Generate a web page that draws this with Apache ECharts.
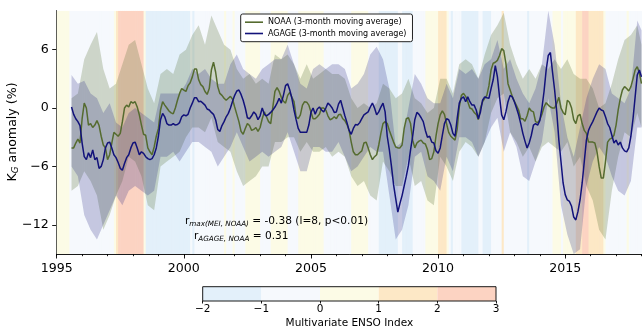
<!DOCTYPE html>
<html><head><meta charset="utf-8">
<script src="https://cdn.jsdelivr.net/npm/echarts@6/dist/echarts.min.js"></script>
<style>html,body{margin:0;padding:0;background:#fff}#c{width:642px;height:330px}</style>
</head><body><div id="c"></div>
<script>
const FONT = 'DejaVu Sans';
// monthly series start (Aug 1995), step = 1 month
const startYear = 1995 + 7/12;
const xTicks = [1995, 2000, 2005, 2010, 2015];
const yTicks = [-12, -6, 0, 6];
const cbTicks = [-2, -1, 0, 1, 2, 3];
const meiColors = ['#e3f0fa', '#f6f9fd', '#fcfbe6', '#fde8c6', '#fcd3c2'];
const seriesNames = ['NOAA (3-month moving average)', 'AGAGE (3-month moving average)'];

const noaa = [
-4.1,-4.1,-3.6,-3.2,-3.6,-1.1,0.5,0.0,-1.75,-1.6,
-2.0,-1.75,-1.3,-1.8,-2.9,-3.8,-4.1,-5.3,-4.8,-3.6,
-2.5,-2.7,-2.9,-2.6,-1.4,0.0,0.3,0.1,0.65,0.5,
0.65,0.1,-0.7,-1.75,-2.7,-2.8,-4.1,-4.5,-4.8,-4.0,
-2.9,-2.1,-0.2,0.65,0.3,0.0,-0.3,-0.5,-0.6,0.0,
0.8,1.5,2.0,1.85,1.7,2.3,2.6,3.2,4.0,4.0,
2.9,2.4,2.2,1.7,1.4,2.0,3.9,4.7,3.7,2.2,
1.5,1.3,1.0,0.8,1.0,1.2,0.9,0.1,-0.65,-1.4,
-2.4,-2.7,-2.1,-1.6,-1.8,-2.3,-2.2,-2.0,-2.4,-2.0,
-1.1,-0.4,-0.9,-1.4,-1.6,0.1,1.7,2.1,1.7,1.1,
0.7,0.5,1.3,1.6,1.1,0.65,-0.9,-1.1,-0.7,0.3,
0.65,0.6,0.3,-0.4,-1.1,-1.1,-0.9,-0.65,0.0,0.0,
-0.2,-0.8,-1.2,-1.1,-0.9,-1.1,-0.7,-0.65,-1.1,-1.3,
-1.7,-2.3,-3.5,-4.5,-4.8,-4.8,-4.6,-4.4,-3.6,-3.5,
-4.1,-4.8,-5.3,-5.0,-4.8,-3.8,-2.6,-1.6,-1.4,-1.6,
-2.3,-2.9,-3.5,-4.0,-4.1,-4.1,-3.8,-2.1,-1.1,-1.0,
-1.6,-3.3,-4.1,-3.6,-3.4,-3.3,-3.6,-3.7,-4.3,-5.3,
-5.2,-4.5,-2.9,-1.6,-0.7,-0.3,-0.65,-1.6,-2.5,-2.9,
-3.1,-3.3,-2.2,0.1,1.3,1.5,1.2,0.65,0.0,-0.1,
-0.45,-0.65,-1.2,0.0,0.65,1.0,1.3,2.3,3.9,4.6,
4.7,4.9,5.4,6.1,5.9,4.6,2.5,1.85,1.2,0.7,
0.25,-0.2,-1.1,-1.1,-1.35,-0.8,0.0,-0.3,-0.4,-1.4,
-1.5,-1.2,-0.65,0.1,0.55,0.3,0.1,0.0,0.0,0.5,
1.1,0.0,-0.45,-0.7,0.8,0.6,0.0,-1.2,-1.6,-0.8,
-0.65,-1.6,-2.3,-2.6,-3.5,-3.5,-3.5,-3.6,-4.5,-6.0,
-7.2,-7.2,-5.5,-3.5,-3.2,-3.1,-2.8,-1.75,-0.2,1.0,
1.85,2.2,2.0,1.75,2.2,3.0,3.9,4.25,3.6,2.5
];

const agage = [
0.1,-0.65,-1.1,-1.4,-1.8,-3.6,-5.0,-5.3,-4.6,-5.1,
-4.3,-5.3,-5.1,-6.2,-6.0,-5.3,-4.1,-3.6,-3.5,-4.1,
-4.8,-5.1,-5.6,-6.2,-6.4,-5.7,-5.1,-4.8,-4.1,-3.6,
-3.5,-4.1,-4.8,-4.5,-4.65,-5.0,-5.2,-5.3,-5.2,-4.8,
-4.1,-2.9,-1.2,-0.55,-0.9,-1.6,-1.75,-1.75,-1.6,-1.75,
-1.7,-1.5,-0.9,-0.7,-0.8,-0.65,0.0,0.5,1.05,1.05,
0.65,0.7,0.5,0.3,-0.1,-0.2,-0.45,-0.65,-1.2,-2.2,
-2.4,-1.8,-1.4,-0.9,-0.55,0.0,0.7,1.3,1.75,1.85,
1.4,0.8,0.0,-1.0,-1.1,-0.8,-0.4,-0.65,-1.2,-0.8,
0.0,-0.65,-0.8,-0.65,-0.45,-0.2,0.1,0.5,1.0,0.5,
1.3,2.3,2.5,1.85,1.0,-0.2,-1.2,-2.1,-2.5,-2.5,
-2.5,-2.5,-1.75,-0.45,0.0,-0.65,-0.1,0.1,-0.2,-0.4,
0.0,0.5,0.3,0.0,-0.45,-0.4,0.4,0.8,0.0,-0.8,
-1.5,-2.3,-2.7,-2.1,-1.7,-1.75,-1.5,-1.1,-0.7,-0.55,
-0.4,0.1,0.5,0.0,-0.7,-0.4,0.1,0.5,-0.4,-2.9,
-4.3,-6.0,-7.9,-9.3,-10.7,-9.8,-9.0,-8.0,-7.0,-5.9,
-4.3,-2.9,-1.2,-0.45,-0.65,-1.0,-1.4,-2.3,-3.0,-2.9,
-3.5,-3.6,-4.4,-4.65,-4.1,-2.8,-1.6,-1.1,-1.2,-1.75,
-2.6,-2.9,-1.1,0.5,1.0,1.15,0.65,1.15,0.65,0.3,
0.3,-0.2,-1.1,-0.4,0.8,1.15,1.05,1.0,2.0,2.9,
4.35,3.2,1.15,-0.7,-1.2,-0.4,0.65,1.3,1.15,0.65,
0.0,-0.7,-1.6,-2.6,-3.4,-4.1,-3.6,-2.8,-1.75,-1.6,
-1.75,-1.3,0.0,1.7,3.9,5.4,5.7,3.7,1.85,-0.4,
-3.3,-5.5,-7.7,-8.9,-9.45,-9.6,-10.1,-11.2,-11.5,-10.65,
-9.45,-7.7,-5.5,-3.3,-2.3,-1.8,-1.4,-0.9,-0.4,0.0,
-0.2,-0.3,-0.9,-1.6,-2.0,-2.8,-3.6,-3.3,-3.8,-3.5,
-4.1,-4.4,-4.5,-4.1,-2.9,-1.1,1.15,3.4,3.9,3.2
];

// uncertainty bands, sampled every 3 months (month index 0,3,...,267) plus month 269
const noaaUpper = [1.0,1.5,5.0,6.5,7.8,4.0,2.0,2.5,4.5,6.5,7.0,4.5,2.0,0.5,3.5,4.0,3.5,5.5,6.0,7.5,
8.5,6.5,9.5,8.0,6.5,6.0,4.0,3.0,3.5,2.5,3.0,2.5,5.5,5.0,5.5,4.5,3.0,4.5,3.0,3.5,
4.0,3.5,3.5,3.0,1.0,0.0,0.5,0.0,0.5,2.5,2.0,1.0,1.5,3.0,1.0,0.5,-0.5,0.0,3.0,3.0,
1.5,4.5,5.0,4.5,3.0,5.5,7.5,8.5,9.8,6.5,4.5,3.0,4.0,3.0,4.5,4.0,5.0,4.0,5.0,3.5,
3.0,3.0,2.0,0.0,0.5,2.5,5.0,7.0,7.5,8.5,6.5];
const noaaLower = [-8.5,-8.0,-6.5,-7.5,-9.0,-12.5,-11.0,-9.0,-7.5,-5.0,-5.5,-7.0,-10.0,-10.5,-6.0,-5.5,-5.0,-4.5,-3.0,-2.0,
-2.0,-2.5,-1.0,-3.5,-4.0,-4.5,-6.5,-8.0,-7.5,-7.0,-6.0,-6.0,-3.5,-3.5,-3.0,-3.0,-4.5,-3.5,-4.5,-4.5,
-4.0,-5.0,-4.5,-5.0,-7.0,-8.0,-7.5,-9.0,-9.5,-5.5,-6.5,-8.0,-8.0,-5.0,-8.0,-7.5,-9.5,-10.0,-5.0,-6.0,
-7.5,-4.5,-3.5,-4.0,-5.0,-3.5,-0.5,1.0,1.5,-2.5,-3.5,-5.0,-4.0,-5.5,-4.0,-3.5,-4.0,-4.5,-3.5,-6.0,
-5.0,-8.0,-9.5,-12.5,-13.5,-8.5,-5.0,-2.5,-3.0,-0.5,-2.0];
const agageUpper = [3.4,2.5,2.8,1.5,1.0,-0.5,0.5,-1.5,-2.0,-0.5,0.0,-0.5,-1.0,-1.5,1.5,1.5,1.5,1.5,2.5,4.0,
3.5,4.0,3.0,2.5,2.5,4.5,5.5,4.0,3.5,3.0,4.0,4.5,5.0,5.0,6.5,4.5,2.5,2.0,4.0,4.5,
4.0,4.5,4.5,4.0,2.0,2.5,3.5,5.5,6.3,5.0,2.0,-4.0,-3.5,0.0,3.5,2.5,1.0,0.5,0.5,2.5,
1.0,4.0,3.5,4.0,3.0,4.5,5.0,7.0,4.0,5.0,3.0,1.5,0.5,2.0,4.5,10.0,6.5,0.5,-3.0,-5.0,
-2.0,1.0,3.0,4.5,4.0,1.5,1.0,0.5,2.0,9.0,8.0];
const agageLower = [-6.0,-7.0,-11.0,-12.5,-13.5,-12.0,-10.5,-9.0,-10.0,-8.5,-8.0,-8.5,-9.0,-8.5,-5.0,-5.0,-4.5,-5.5,-4.5,-3.5,
-3.5,-4.0,-4.5,-6.0,-5.0,-4.0,-2.5,-4.0,-5.5,-5.0,-4.5,-5.0,-4.5,-4.0,-2.5,-4.5,-6.5,-6.5,-4.0,-4.0,
-4.5,-4.5,-3.5,-5.0,-6.5,-6.0,-5.0,-4.0,-4.5,-4.5,-9.0,-13.5,-12.5,-10.0,-5.0,-4.5,-7.0,-7.5,-8.5,-5.0,
-6.5,-3.0,-3.0,-3.5,-5.0,-3.5,-2.0,-1.0,-4.5,-2.5,-4.0,-7.0,-7.5,-5.5,-3.5,1.0,-2.5,-10.0,-13.0,-15.0,
-14.5,-8.0,-5.5,-4.0,-5.0,-7.0,-8.5,-9.0,-7.5,-2.0,-2.0];

// Multivariate ENSO Index, monthly from Jan 1995
const meiStart = 1995;
const mei = [
0.6,0.5,0.4,0.3,0.2,0.1,-0.2,-0.3,-0.5,-0.6,-0.7,-0.6,
-0.6,-0.7,-0.5,-0.4,-0.3,-0.3,-0.2,-0.4,-0.3,-0.3,-0.2,-0.2,
-0.4,-0.3,-0.2,0.5,1.4,2.3,2.6,2.8,2.9,2.8,2.7,2.6,
2.6,2.5,2.3,2.2,2.1,0.6,-1.1,-1.2,-1.3,-1.4,-1.2,-1.3,
-1.4,-1.5,-1.3,-1.2,-1.1,-1.2,-1.2,-1.3,-1.4,-1.3,-1.5,-1.6,
-1.5,-1.4,-1.2,-0.8,-1.1,-0.7,-0.5,-0.4,-0.3,-0.6,-0.8,-0.7,
-0.6,-0.5,-0.5,-0.3,-0.1,-0.2,-0.1,0.1,-0.1,-0.2,-0.1,0.1,
-0.1,-0.2,-0.1,-0.2,-0.1,0.4,0.6,0.8,0.9,0.9,0.8,0.7,
-0.1,-0.2,-0.3,-0.4,-0.1,0.2,0.3,0.3,0.2,0.3,0.4,0.3,
0.2,-0.1,-0.2,-0.2,-0.1,-0.1,0.4,0.6,0.7,0.7,0.6,0.7,
0.5,0.6,0.7,0.5,0.4,0.2,-0.1,-0.2,-0.4,-0.6,-0.7,-0.6,
-0.5,-0.4,-0.6,-0.3,-0.2,-0.1,-0.1,0.3,0.5,0.7,0.9,0.9,
0.8,0.5,0.2,-0.2,-0.4,-0.5,-0.6,-0.8,-1.1,-1.2,-1.3,-1.3,
-1.4,-1.5,-1.4,-1.2,-1.1,-0.8,-0.9,-1.1,-1.2,-1.2,-1.1,-1.1,
-1.0,-0.8,-0.6,-0.4,-0.2,-0.1,0.3,0.5,0.6,0.8,0.9,0.9,
1.1,1.2,1.2,1.1,0.6,-0.5,-1.1,-0.9,-0.8,-0.8,-0.9,-1.2,
-1.4,-1.5,-1.6,-1.4,-1.3,-1.2,-1.1,-0.8,-0.9,-1.1,-1.2,-1.1,
-1.1,-1.0,-0.8,-0.6,-0.3,-0.1,1.1,-0.1,-0.2,-0.3,-0.2,-0.2,
-0.3,-0.4,-0.3,-0.2,-0.3,-0.5,-1.1,-0.4,-0.3,-0.2,-0.2,-0.1,
-0.2,-0.3,-0.1,-0.2,-0.3,-0.1,0.3,0.4,0.3,0.2,-0.1,0.3,
0.4,0.5,0.7,0.8,0.9,1.3,1.6,1.9,2.2,2.3,2.2,1.9,
1.8,1.7,1.6,1.4,1.3,1.1,0.4,-0.2,-0.3,-0.4,-0.3,-0.4,
-0.4,-0.3,-0.2,-0.1,-0.1,0.3,-0.1,-0.3,-0.4,-0.5,-0.6,-0.7
];

const monthT = i => startYear + i / 12;
const bandMonths = [];
for (let m = 0; m <= 267; m += 3) bandMonths.push(m);
bandMonths.push(269);
const bandT = bandMonths.map(monthT);

function meiColor(v) {
  for (let k = 0; k < meiColors.length; k++) if (v < cbTicks[k + 1]) return meiColors[k];
  return meiColors[meiColors.length - 1];
}
const minus = v => (v < 0 ? '\u2212' + Math.abs(v) : String(v));

function bandSeries(upper, lower, fill, z) {
  return {
    type: 'custom', xAxisIndex: 0, yAxisIndex: 0, silent: true, z: z, clip: true,
    data: [[1995, 0]],
    renderItem: function (params, api) {
      const pts = [];
      for (let k = 0; k < bandT.length; k++) pts.push(api.coord([bandT[k], upper[k]]));
      for (let k = bandT.length - 1; k >= 0; k--) pts.push(api.coord([bandT[k], lower[k]]));
      return { type: 'polygon', shape: { points: pts }, style: { fill: fill } };
    }
  };
}

const chart = echarts.init(document.getElementById('c'));
const axisBlack = { color: '#000', width: 0.9 };
const option = {
  animation: false,
  grid: [
    { left: 56.7, right: 0.5, top: 10.7, bottom: 76 },
    { left: 202.7, top: 286.7, width: 293.3, height: 14.3 }
  ],
  xAxis: [
    { gridIndex: 0, type: 'value', min: 1995, max: 2018, interval: 1,
      axisLine: { show: true, onZero: false, lineStyle: axisBlack },
      axisTick: { show: true, length: 2.2, lineStyle: axisBlack },
      axisLabel: { customValues: xTicks, margin: 8, fontSize: 12.6, fontFamily: FONT, color: '#000',
                   formatter: v => String(Math.round(v)) },
      splitLine: { show: false } },
    { gridIndex: 0, type: 'value', min: 1995, max: 2018, position: 'bottom',
      axisLine: { show: false, onZero: false }, axisLabel: { show: false },
      axisTick: { show: true, customValues: xTicks, length: 4.5, lineStyle: axisBlack },
      splitLine: { show: false } },
    { gridIndex: 1, type: 'value', min: -2, max: 3, interval: 1,
      axisLine: { show: false, onZero: false },
      axisTick: { show: true, length: 2.5, lineStyle: axisBlack },
      axisLabel: { margin: 3, fontSize: 10.5, fontFamily: FONT, color: '#000', formatter: minus },
      splitLine: { show: false },
      name: 'Multivariate ENSO Index', nameLocation: 'middle', nameGap: 17,
      nameTextStyle: { fontSize: 10.5, fontFamily: FONT, color: '#000' } }
  ],
  yAxis: [
    { gridIndex: 0, type: 'value', min: -15, max: 10,
      axisLine: { show: true, onZero: false, lineStyle: axisBlack },
      axisTick: { show: true, customValues: yTicks, length: 4.5, lineStyle: axisBlack },
      axisLabel: { customValues: yTicks, margin: 8, fontSize: 12.6, fontFamily: FONT, color: '#000', formatter: minus },
      splitLine: { show: false } },
    { gridIndex: 1, type: 'value', min: 0, max: 1, show: false }
  ],
  legend: {
    data: seriesNames, orient: 'vertical', left: 240.7, top: 14,
    icon: 'rect', itemWidth: 18, itemHeight: 1.6, itemGap: 1.3,
    padding: [3.2, 6, 3.2, 4.3],
    borderColor: '#222', borderWidth: 1, borderRadius: 2, backgroundColor: '#fff',
    textStyle: { fontSize: 8, fontFamily: FONT, color: '#000', lineHeight: 10 }
  },
  graphic: [
    { type: 'text', x: 13, y: 132, rotation: Math.PI / 2, silent: true,
      style: { text: '{k|K}{g|G}{k| anomaly (%)}', align: 'center', verticalAlign: 'middle',
        rich: { k: { fontSize: 12.6, fontFamily: FONT, fill: '#000', lineHeight: 15 },
                g: { fontSize: 8.8, fontFamily: FONT, fontStyle: 'italic', fill: '#000', lineHeight: 6, verticalAlign: 'bottom' } } } },
    { type: 'text', x: 185, y: 221, silent: true, z: 100,
      style: { text: '{r|r}{s|max(MEI, NOAA)}{r| = -0.38 (l=8, p<0.01)}', align: 'left', verticalAlign: 'middle',
        rich: { r: { fontSize: 10.6, fontFamily: FONT, fill: '#000', lineHeight: 13 },
                s: { fontSize: 7.2, fontFamily: FONT, fontStyle: 'italic', fill: '#000', lineHeight: 5, verticalAlign: 'bottom' } } } },
    { type: 'text', x: 194, y: 236, silent: true, z: 100,
      style: { text: '{r|r}{s|AGAGE, NOAA}{r| = 0.31}', align: 'left', verticalAlign: 'middle',
        rich: { r: { fontSize: 10.6, fontFamily: FONT, fill: '#000', lineHeight: 13 },
                s: { fontSize: 7.2, fontFamily: FONT, fontStyle: 'italic', fill: '#000', lineHeight: 5, verticalAlign: 'bottom' } } } }
  ],
  series: [
    { type: 'custom', xAxisIndex: 0, yAxisIndex: 0, silent: true, z: 1, clip: true,
      data: mei.map((v, k) => [meiStart + k / 12, v]),
      renderItem: function (params, api) {
        const t = api.value(0), v = api.value(1);
        const a = api.coord([t, 10]), b = api.coord([t + 1 / 12, -15]);
        return { type: 'rect', shape: { x: a[0], y: a[1], width: b[0] - a[0] + 0.6, height: b[1] - a[1] },
                 style: { fill: meiColor(v) } };
      } },
    bandSeries(noaaUpper, noaaLower, 'rgba(85,107,47,0.25)', 2),
    bandSeries(agageUpper, agageLower, 'rgba(25,25,125,0.22)', 2),
    { name: seriesNames[0], type: 'line', xAxisIndex: 0, yAxisIndex: 0, z: 3, symbol: 'none',
      data: noaa.map((v, i) => [monthT(i), v]),
      lineStyle: { color: '#556b2f', width: 1.5 }, itemStyle: { color: '#556b2f' } },
    { name: seriesNames[1], type: 'line', xAxisIndex: 0, yAxisIndex: 0, z: 3, symbol: 'none',
      data: agage.map((v, i) => [monthT(i), v]),
      lineStyle: { color: '#12127a', width: 1.5 }, itemStyle: { color: '#12127a' } },
    { type: 'custom', xAxisIndex: 2, yAxisIndex: 1, silent: true, z: 2,
      data: meiColors.map((c, k) => [cbTicks[k], cbTicks[k + 1], k]),
      encode: { x: [0, 1] },
      renderItem: function (params, api) {
        const a = api.coord([api.value(0), 1]), b = api.coord([api.value(1), 0]);
        return { type: 'rect', shape: { x: a[0], y: a[1], width: b[0] - a[0], height: b[1] - a[1] },
                 style: { fill: meiColors[api.value(2)] } };
      } },
    { type: 'custom', xAxisIndex: 2, yAxisIndex: 1, silent: true, z: 4,
      data: [[cbTicks[0], 0]],
      renderItem: function (params, api) {
        const a = api.coord([cbTicks[0], 1]), b = api.coord([cbTicks[cbTicks.length - 1], 0]);
        return { type: 'rect', shape: { x: a[0], y: a[1], width: b[0] - a[0], height: b[1] - a[1] },
                 style: { fill: 'none', stroke: '#000', lineWidth: 0.9 } };
      } }
  ]
};
chart.setOption(option);
</script>
</body></html>
